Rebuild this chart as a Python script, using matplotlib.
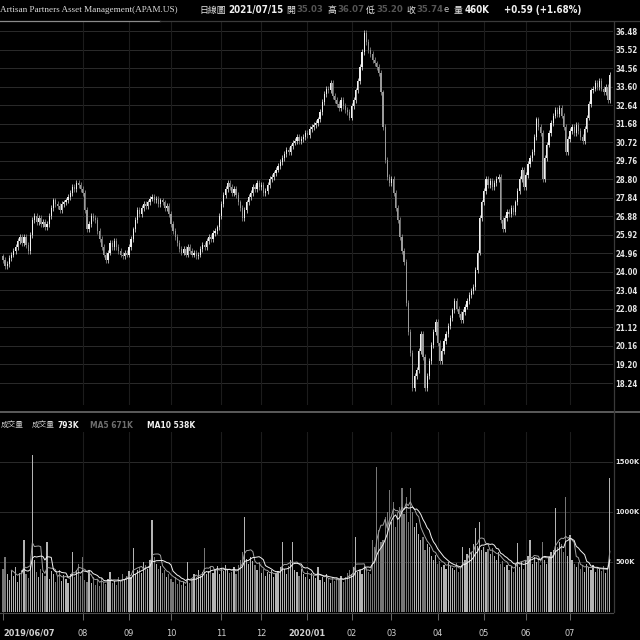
import matplotlib
matplotlib.use('Agg')
import matplotlib.pyplot as plt
from matplotlib import font_manager
import numpy as np
import pandas as pd

plt.rcParams['font.family'] = ['DejaVu Sans', 'Noto Sans CJK TC']

# daily closes, 2019/06/07 onward
closes = [
    24.6, 24.3, 24.4, 24.7, 24.9, 25.1, 25.3, 25.6, 25.8, 25.5,
    25.8, 25.4, 25.1, 25.9, 26.7, 26.9, 26.6, 26.8, 26.5, 26.6,
    26.3, 26.5, 26.9, 27.3, 27.7, 27.5, 27.4, 27.2, 27.5, 27.6,
    27.7, 27.9, 28.1, 28.4, 28.3, 28.6, 28.5, 28.3, 28.1, 27.2,
    26.2, 26.5, 26.9, 26.8, 26.7, 26.1, 25.7, 25.3, 24.9, 24.6,
    25.0, 25.5, 25.3, 25.6, 25.3, 25.1, 24.9, 24.8, 25.0, 24.9,
    25.3, 25.7, 26.2, 26.7, 27.2, 27.0, 27.3, 27.5, 27.4, 27.6,
    27.8, 27.9, 27.7, 27.8, 27.5, 27.7, 27.6, 27.3, 27.4, 27.0,
    26.5, 26.1, 25.8, 25.5, 25.2, 25.0, 25.2, 24.9, 25.3, 25.1,
    24.9, 25.0, 24.8, 24.9, 25.2, 25.4, 25.3, 25.6, 25.8, 25.7,
    26.0, 26.1, 26.3, 26.9, 27.5, 28.0, 28.3, 28.6, 28.4, 28.1,
    28.3, 28.0, 27.6, 27.3, 26.8, 27.2, 27.6, 27.9, 28.1, 28.4,
    28.3, 28.6, 28.4, 28.5, 28.1, 28.2, 28.5, 28.8, 28.9, 29.1,
    29.3, 29.5, 29.7, 29.9, 30.1, 30.3, 30.2, 30.5, 30.7, 30.8,
    31.0, 30.8, 30.9, 31.0, 31.2, 31.1, 31.4, 31.5, 31.6, 31.7,
    31.9, 32.3, 32.8, 33.2, 33.5, 33.4, 33.8, 33.1, 32.9, 32.7,
    32.5, 32.9, 32.6, 32.4, 32.3, 32.0, 32.6, 32.9, 33.4, 33.9,
    34.6, 35.4, 36.4, 35.9, 35.5, 35.3, 35.0, 34.8, 34.6, 34.3,
    33.3, 31.5, 29.8, 28.9, 28.6, 28.8, 28.1, 27.3, 26.7, 25.8,
    25.1, 24.5, 22.4, 20.9, 19.8, 18.0, 18.6, 18.9, 19.9, 20.8,
    19.6, 18.0, 18.6, 19.4, 20.2, 20.9, 21.4, 20.3, 19.4, 19.9,
    20.4, 20.8, 21.2, 21.6, 22.0, 22.5, 22.1, 21.8, 21.5, 21.9,
    22.2, 22.5, 22.8, 23.0, 23.2, 24.1, 25.0, 26.8, 27.6, 28.2,
    28.8, 28.5, 28.7, 28.4, 28.6, 28.8, 28.9, 26.7, 26.2, 26.8,
    27.1, 27.0, 27.3, 27.1, 27.6, 28.2, 28.8, 29.3, 28.4, 29.0,
    29.6, 29.9, 30.2, 31.0, 31.9, 31.5, 31.2, 28.8, 29.9, 30.6,
    31.2, 31.7, 32.1, 32.4, 32.2, 32.5, 32.1, 31.5, 30.2, 30.9,
    31.3, 31.5, 31.2, 31.6, 31.3, 31.0, 30.8, 31.4, 32.0, 32.7,
    33.4, 33.5, 33.8, 33.6, 33.9, 33.5, 33.3, 33.6, 32.9, 34.2,
]
first_open = 24.8

# daily volume in K shares
volumes = [
    430, 550, 380, 320, 410, 360, 450, 300, 390, 420,
    720, 380, 340, 460, 1570, 520, 400, 350, 430, 390,
    360, 700, 330, 410, 380, 300, 350, 420, 310, 370,
    330, 290, 380, 600, 350, 420, 480, 360, 550, 320,
    300, 410, 290, 350, 270, 320, 260, 340, 300, 280,
    330, 400, 290, 310, 270, 350, 300, 380, 330, 360,
    410, 350, 640, 380, 420, 450, 390, 500, 470, 430,
    520, 920, 550, 480, 430, 460, 390, 420, 350, 380,
    330, 300, 350, 280, 320, 270, 300, 260, 500, 290,
    330, 380, 350, 420, 360, 400, 640, 380, 410, 450,
    390, 420, 460, 380, 440, 410, 470, 430, 390, 400,
    450, 380, 470, 520, 600, 950, 530, 480, 550, 510,
    470, 420, 500, 390, 430, 360, 400, 380, 420, 350,
    390, 410, 450, 700, 430, 380, 460, 520, 700, 420,
    400, 360, 430, 380, 350, 410, 330, 390, 360, 340,
    450, 320, 350, 300, 380, 330, 290, 350, 310, 340,
    320, 360, 300, 350, 390, 420, 380, 450, 750, 400,
    420, 380, 460, 440, 400, 380, 720, 650, 1450, 820,
    700, 720, 950, 1000, 1220, 900, 1100, 850, 1000, 1050,
    1240, 980, 1150, 900, 1240, 1000, 850, 890, 780, 720,
    750, 620, 680, 650, 560, 520, 570, 480, 510, 450,
    470, 430, 500, 460, 440, 420, 490, 400, 450, 650,
    520, 580, 640, 600, 680, 840, 660, 900, 620, 650,
    600, 630, 580, 640, 560, 520, 600, 480, 510, 450,
    470, 420, 460, 400, 480, 690, 450, 500, 430, 520,
    560, 720, 480, 550, 500, 540, 470, 700, 520, 480,
    550, 600, 620, 1040, 650, 700, 680, 600, 1150, 560,
    770, 520, 480, 450, 500, 430, 470, 400, 480, 450,
    420, 470, 400, 450, 430, 410, 460, 390, 440, 1340,
]

price_ticks = [36.48, 35.52, 34.56, 33.60, 32.64, 31.68, 30.72, 29.76, 28.80, 27.84,
               26.88, 25.92, 24.96, 24.00, 23.04, 22.08, 21.12, 20.16, 19.20, 18.24]
vol_ticks = [500, 1000, 1500]
vol_tick_labels = ['500K', '1000K', '1500K']
month_pos = [38, 60, 80, 104, 123, 145, 166, 185, 207, 229, 249, 270]
month_labels = ['08', '09', '10', '11', '12', '2020/01', '02', '03', '04', '05', '06', '07']
first_label = '2019/06/07'

df = pd.DataFrame({'close': closes, 'vol': volumes})
df['open'] = df['close'].shift(1).fillna(first_open)
df['up'] = df['close'] >= df['open']
df['ma5'] = df['vol'].rolling(5).mean()
df['ma10'] = df['vol'].rolling(10).mean()
x = np.arange(len(df))

# the reference uses a condensed face for numbers; use one if installed
have_cond = any(f.name == 'DejaVu Sans' and f.stretch == 'condensed'
                for f in font_manager.fontManager.ttflist)
num_stretch = 'condensed' if have_cond else 'normal'
k = 1.0 if have_cond else 0.88   # shrink numbers when no condensed face

W = 640.0
fig = plt.figure(figsize=(6.4, 6.4), dpi=100, facecolor='black')

def px_axes(x0, y0, x1, y1):
    # axes placed by pixel box (top-left origin)
    a = fig.add_axes([x0 / W, 1 - y1 / W, (x1 - x0) / W, (y1 - y0) / W])
    a.set_facecolor('black')
    for s in a.spines.values():
        s.set_visible(False)
    return a

grid_c = '#2b2b2b'
vgrid_c = '#1c1c1c'

# ---- price panel
ax = px_axes(0, 22, 613, 405)
ax.set_xlim(-1.4, 290.5)
ax.set_ylim(17.10, 36.95)
for t in price_ticks:
    ax.axhline(t, color=grid_c, lw=0.7, zorder=0)
for m in month_pos:
    ax.axvline(m, color=vgrid_c, lw=0.8, zorder=0)

wick = 0.15
hi = np.maximum(df['open'], df['close'])
lo = np.minimum(df['open'], df['close'])
body_c = np.where(df['up'], '#f0f0f0', '#9a9a9a')
ax.vlines(x, lo - wick, hi + wick, colors=body_c, lw=0.5, zorder=2)
ax.bar(x, np.maximum(hi - lo, 0.06), bottom=lo, width=0.6, color=body_c, lw=0, zorder=3)

ax.yaxis.tick_right()
ax.set_yticks(price_ticks)
ax.set_yticklabels(['%.2f' % t for t in price_ticks], fontstretch=num_stretch,
                   fontweight='bold', fontsize=5.6 if have_cond else 5.0)
ax.tick_params(axis='y', length=0, pad=1.5, labelcolor='#e6e6e6')
ax.set_xticks([])

# ---- volume panel
axv = px_axes(0, 432, 613, 612)
axv.set_xlim(-1.4, 290.5)
axv.set_ylim(0, 1800)
for t in vol_ticks:
    axv.axhline(t, color=grid_c, lw=0.7, zorder=0)
for m in month_pos:
    axv.axvline(m, color=vgrid_c, lw=0.8, zorder=0)
vol_c = np.where(df['up'], '#b4b4b4', '#767676')
axv.bar(x, df['vol'], width=0.6, color=vol_c, lw=0, zorder=2)
axv.plot(x, df['ma5'], color='#a0a0a0', lw=0.7, zorder=3)
axv.plot(x, df['ma10'], color='#f2f2f2', lw=0.7, zorder=4)

axv.yaxis.tick_right()
axv.set_yticks(vol_ticks)
axv.set_yticklabels(vol_tick_labels, fontstretch=num_stretch, fontweight='bold',
                    fontsize=5.4 if have_cond else 4.6)
axv.tick_params(axis='y', length=0, pad=1.5, labelcolor='#e6e6e6')
axv.set_xticks([0] + month_pos)
axv.set_xticklabels([first_label] + month_labels, fontstretch=num_stretch,
                    fontsize=6.6 * k)
axv.tick_params(axis='x', length=6, width=0.6, color='#777777', pad=6, labelcolor='#d0d0d0')
xl = axv.get_xticklabels()
xl[0].set_horizontalalignment('left')
for lbl in xl:
    if '/' in lbl.get_text():
        lbl.set_fontweight('bold')

# ---- frame lines
def hline(y, x0, x1, c, lw=1.0):
    fig.add_artist(plt.Line2D([x0 / W, x1 / W], [1 - y / W, 1 - y / W], color=c, lw=lw))

def vline(xp, y0, y1, c, lw=1.0):
    fig.add_artist(plt.Line2D([xp / W, xp / W], [1 - y0 / W, 1 - y1 / W], color=c, lw=lw))

hline(21, 0, 160, '#8a8a8a', 0.9)
hline(21, 160, 640, '#3a3a3a', 0.9)
hline(412, 0, 640, '#6a6a6a', 1.2)
hline(612.5, 0, 613, '#4a4a4a', 0.8)
vline(613.5, 22, 612, '#3a3a3a', 0.9)

# ---- header text
def ftext(xp, yp, s, c='#e6e6e6', size=6.5, weight='normal', family=None, num=False):
    kw = {}
    if family:
        kw['family'] = family
    if num:
        kw['fontstretch'] = num_stretch
        size = size * k
    fig.text(xp / W, 1 - yp / W, s, color=c, fontsize=size, fontweight=weight,
             ha='left', va='center', **kw)

cjk = ['Noto Sans CJK TC', 'DejaVu Sans']
ftext(0, 10, 'Artisan Partners Asset Management(APAM.US)', c='#dcdcdc', size=6.6,
      family=['Liberation Serif'])
ftext(199, 10, '日線圖', size=6.4, family=cjk)
ftext(228, 10, '2021/07/15', size=7.0, weight='bold', c='#f0f0f0', num=True)
ftext(286, 10, '開', size=6.4, family=cjk)
ftext(296, 10, '35.03', size=6.8, c='#555555', weight='bold', num=True)
ftext(327, 10, '高', size=6.4, family=cjk)
ftext(337, 10, '36.07', size=6.8, c='#555555', weight='bold', num=True)
ftext(366, 10, '低', size=6.4, family=cjk)
ftext(376, 10, '35.20', size=6.8, c='#555555', weight='bold', num=True)
ftext(406, 10, '收', size=6.4, family=cjk)
ftext(416, 10, '35.74', size=6.8, c='#555555', weight='bold', num=True)
ftext(444, 10, 'e', size=6.0, c='#cccccc')
ftext(454, 10, '量', size=6.4, family=cjk)
ftext(465, 10, '460K', size=7.0, weight='bold', c='#f0f0f0', num=True)
ftext(504, 10, '+0.59 (+1.68%)', size=7.0, weight='bold', c='#f0f0f0', num=True)

# ---- volume legend
ftext(1, 425, '成交量', size=5.5, family=cjk, c='#cfcfcf')
ftext(32, 425, '成交量', size=5.5, family=cjk, c='#cfcfcf')
ftext(57, 425, '793K', size=6, weight='bold', c='#f0f0f0', num=True)
ftext(90, 425, 'MA5 671K', size=6, weight='bold', c='#6e6e6e', num=True)
ftext(147, 425, 'MA10 538K', size=6, weight='bold', c='#f0f0f0', num=True)

fig.savefig('out.png', dpi=100, facecolor='black')
